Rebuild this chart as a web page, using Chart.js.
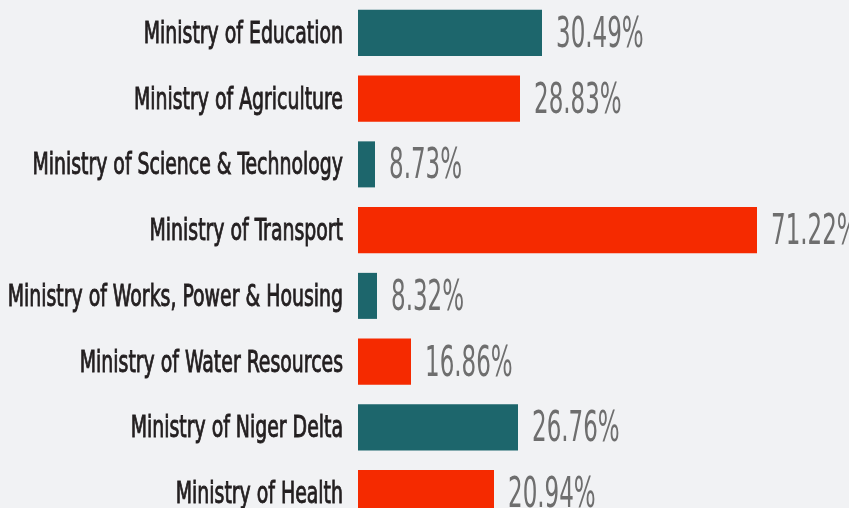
<!DOCTYPE html>
<html>
<head>
<meta charset="utf-8">
<script src="https://cdn.jsdelivr.net/npm/chart.js@4/dist/chart.umd.min.js"></script>
<style>
    html, body { margin: 0; padding: 0; background: #f1f2f4; overflow: hidden; }
    #wrap { width: 849px; height: 526px; position: relative; }
</style>
</head>
<body>
<div id="wrap"><canvas id="barChart"></canvas></div>
<script>
    var categories = [
        'Ministry of Education',
        'Ministry of Agriculture',
        'Ministry of Science & Technology',
        'Ministry of Transport',
        'Ministry of Works, Power & Housing',
        'Ministry of Water Resources',
        'Ministry of Niger Delta',
        'Ministry of Health'
    ];
    // bar lengths (relative allocation)
    var allocation = [46, 40.5, 4.25, 99.75, 4.75, 13.25, 40, 34];
    // percentages printed next to each bar
    var shareLabels = ['30.49%', '28.83%', '8.73%', '71.22%', '8.32%', '16.86%', '26.76%', '20.94%'];
    var barColors = ['#1d666c', '#f52a00', '#1d666c', '#f52a00', '#1d666c', '#f52a00', '#1d666c', '#f52a00'];

    var narrow = '"DejaVu Sans Condensed", "Liberation Sans Narrow", sans-serif';

    var labelPlugin = {
        id: 'labelPlugin',
        afterDatasetsDraw: function (chart) {
            var ctx = chart.ctx;
            var meta = chart.getDatasetMeta(0);
            var left = chart.chartArea.left;
            meta.data.forEach(function (bar, i) {
                // category name, left of the bar
                ctx.save();
                ctx.font = '30px ' + narrow;
                ctx.fillStyle = '#231f20';
                ctx.strokeStyle = '#231f20';
                ctx.lineWidth = 0.9;
                ctx.textAlign = 'right';
                ctx.textBaseline = 'alphabetic';
                ctx.translate(left - 15, bar.y + 10);
                ctx.scale(0.7, 1);
                ctx.fillText(categories[i], 0, 0);
                ctx.strokeText(categories[i], 0, 0);
                ctx.restore();

                // percentage, right of the bar
                ctx.save();
                ctx.font = '43px ' + narrow;
                ctx.fillStyle = '#6e6e6e';
                ctx.textAlign = 'left';
                ctx.textBaseline = 'alphabetic';
                ctx.translate(bar.x + 14, bar.y + 14);
                ctx.scale(0.595, 1);
                ctx.fillText(shareLabels[i], 0, 0);
                ctx.restore();
            });
        }
    };

    var ctx = document.getElementById('barChart').getContext('2d');
    var myChart = new Chart(ctx, {
        type: 'bar',
        data: {
            labels: categories,
            datasets: [{
                data: allocation,
                backgroundColor: barColors,
                borderWidth: 0,
                categoryPercentage: 0.7,
                barPercentage: 1
            }]
        },
        options: {
            indexAxis: 'y',
            responsive: true,
            maintainAspectRatio: false,
            animation: false,
            layout: { padding: { left: 358, right: 0, top: 0, bottom: 0 } },
            scales: {
                x: { display: false, min: 0, max: 122.75 },
                y: { display: false }
            },
            plugins: {
                legend: { display: false },
                tooltip: { enabled: false }
            }
        },
        plugins: [labelPlugin]
    });
</script>
</body>
</html>
